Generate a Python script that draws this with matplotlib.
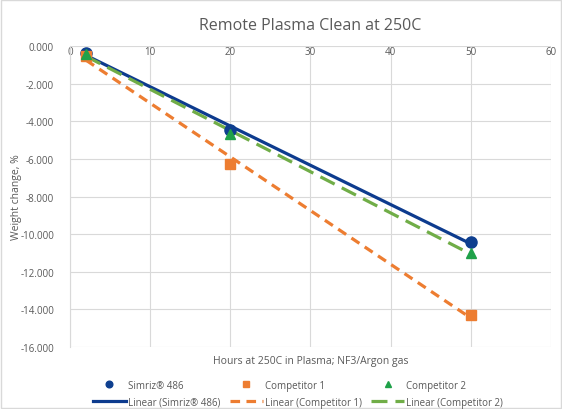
import matplotlib
matplotlib.use("Agg")
import matplotlib.pyplot as plt
import numpy as np
from matplotlib.patches import Rectangle

plt.rcParams['font.family'] = ['Open Sans', 'DejaVu Sans']

hours = [2, 20, 50]
simriz = [-0.35, -4.47, -10.42]
comp1 = [-0.50, -6.28, -14.30]
comp2 = [-0.42, -4.68, -10.98]

series = [
    ("Simriz® 486", simriz, 'o', '#0E3F8F', '#0D3B8E', '-', 8),
    ("Competitor 1", comp1, 's', '#ED7D31', '#ED7D31', (0, (3, 2)), 7),
    ("Competitor 2", comp2, '^', '#1FA149', '#70AD47', (0, (5, 2.5)), 7.5),
]

fig = plt.figure(figsize=(5.62, 4.10), dpi=100)
ax = fig.add_axes([0.1246, 0.151, 0.8554, 0.734])

x = np.array(hours, dtype=float)
handles = []
for name, vals, mk, mcol, lcol, ls, ms in series:
    p = ax.plot(hours, vals, linestyle='none', marker=mk, color=mcol, markersize=ms,
                label=name, zorder=4)[0]
    k, b = np.polyfit(x, np.array(vals), 1)
    xs = np.array([x.min(), x.max()])
    l = ax.plot(xs, k * xs + b, color=lcol, linestyle=ls, linewidth=2.3,
                label="Linear (" + name + ")", zorder=3)[0]
    handles += [p, l]

ax.set_xlim(0, 60)
ax.set_ylim(-16, 0)
ax.set_xticks(np.arange(0, 61, 10))
ax.set_yticks(np.arange(-16, 0.1, 2))
ax.set_yticklabels(['%.3f' % v for v in np.arange(-16, 0.1, 2)])
ax.grid(True, color='#D9D9D9', linewidth=0.8)
ax.set_axisbelow(True)
for s in ['top', 'right', 'bottom']:
    ax.spines[s].set_visible(False)
ax.spines['left'].set_color('#D9D9D9')
ax.tick_params(axis='x', top=False, bottom=False, labeltop=True, labelbottom=False,
               pad=-11, labelsize=7, labelcolor='#595959')
ax.tick_params(axis='y', left=False, labelsize=7, labelcolor='#595959', pad=8)

ax.set_title("Remote Plasma Clean at 250C", fontsize=11.5, color='#595959', pad=12)
ax.set_xlabel("Hours at 250C in Plasma; NF3/Argon gas", fontsize=7.5, color='#595959', labelpad=6)
ax.set_ylabel("Weight change, %", fontsize=7.5, color='#595959')
ax.yaxis.set_label_coords(-0.1, 0.5)

fig.legend(handles=handles, labels=[h.get_label() for h in handles], ncol=3,
           loc='lower center', bbox_to_anchor=(0.53, -0.013), frameon=False,
           fontsize=7, labelcolor='#595959', handlelength=3.4, columnspacing=1.0,
           handletextpad=0.2, borderaxespad=0.3, labelspacing=0.6, markerscale=0.6)

fig.patches.append(Rectangle((0.002, 0.002), 0.996, 0.996, transform=fig.transFigure,
                             fill=False, edgecolor='#D9D9D9', linewidth=1))

fig.savefig("out.png", dpi=100)
